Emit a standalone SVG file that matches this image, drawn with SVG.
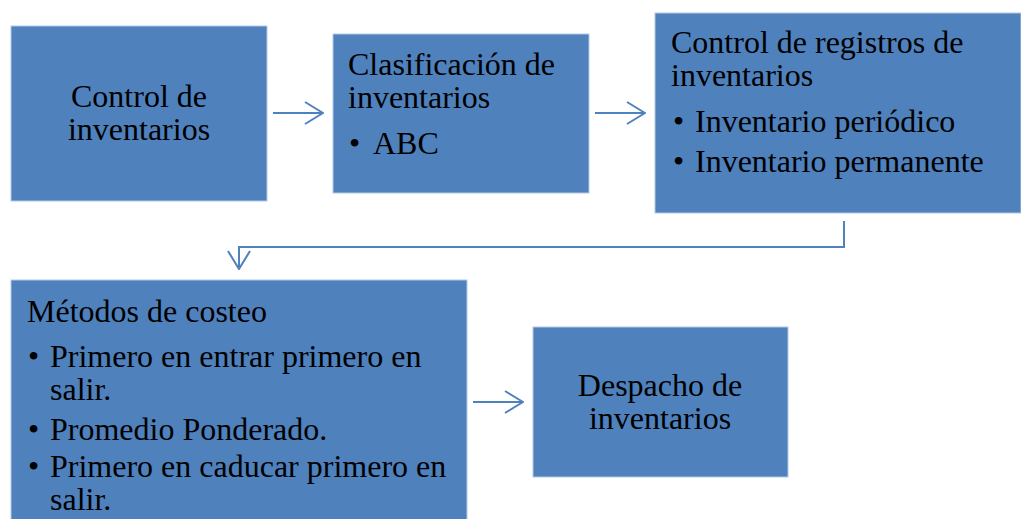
<svg xmlns="http://www.w3.org/2000/svg" width="1021" height="519" viewBox="0 0 1021 519">
<style>
.box{fill:#4F81BD;stroke:#B4C9E4;stroke-width:1}
text{font-family:"Liberation Serif","Times New Roman",serif;font-size:32px;fill:#000}
.c{text-anchor:middle}
.conn{fill:none;stroke:#4F81BD;stroke-width:2}
</style>
<defs>
<marker id="arr" viewBox="0 0 20 24" refX="19" refY="12" markerWidth="20" markerHeight="24" markerUnits="userSpaceOnUse" orient="auto">
<path d="M1,1 L19,12 L1,23" fill="none" stroke="#4F81BD" stroke-width="2"/>
</marker>
</defs>
<rect width="1021" height="519" fill="#fff"/>
<g id="connectors">
<line class="conn" x1="273" y1="113" x2="323" y2="113" marker-end="url(#arr)"/>
<line class="conn" x1="595" y1="113" x2="645" y2="113" marker-end="url(#arr)"/>
<path class="conn" d="M844,221 V247 H239 V269" marker-end="url(#arr)"/>
<line class="conn" x1="473" y1="402" x2="523" y2="402" marker-end="url(#arr)"/>
</g>
<g id="node1">
<rect class="box" x="11" y="26" width="256" height="175"/>
<text class="c" x="139" y="106.5">Control de<tspan x="139" dy="33">inventarios</tspan></text>
</g>
<g id="node2">
<rect class="box" x="333" y="34" width="256" height="159"/>
<text x="348" y="74.5">Clasificación de<tspan x="348" dy="33">inventarios</tspan></text>
<text x="349" y="154">•</text>
<text x="373" y="154">ABC</text>
</g>
<g id="node3">
<rect class="box" x="655" y="13" width="366" height="200"/>
<text x="671" y="53">Control de registros de<tspan x="671" dy="33">inventarios</tspan></text>
<text x="673" y="132">•</text>
<text x="695" y="132">Inventario periódico</text>
<text x="673" y="172">•</text>
<text x="695" y="172">Inventario permanente</text>
</g>
<g id="node4">
<rect class="box" x="11" y="280" width="456" height="245"/>
<text x="27" y="322">Métodos de costeo</text>
<text x="28" y="367">•</text>
<text x="50" y="367">Primero en entrar primero en<tspan x="50" dy="33">salir.</tspan></text>
<text x="28" y="440">•</text>
<text x="50" y="440">Promedio Ponderado.</text>
<text x="28" y="477">•</text>
<text x="50" y="477">Primero en caducar primero en<tspan x="50" dy="33">salir.</tspan></text>
</g>
<g id="node5">
<rect class="box" x="533" y="327" width="255" height="150"/>
<text class="c" x="660" y="395.5">Despacho de<tspan x="660" dy="33">inventarios</tspan></text>
</g>
</svg>
